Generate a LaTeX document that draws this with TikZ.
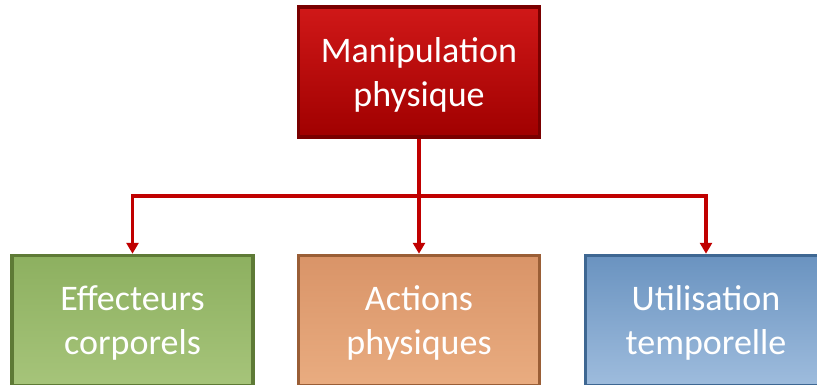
\documentclass[tikz,border=0pt]{standalone}
\usepackage{fontspec}
\setmainfont{Carlito}
\usetikzlibrary{arrows.meta}
\definecolor{redA}{HTML}{D01818}
\definecolor{redB}{HTML}{A00000}
\definecolor{redE}{HTML}{7A0000}
\definecolor{grnA}{HTML}{8DB060}
\definecolor{grnB}{HTML}{A6C47A}
\definecolor{grnE}{HTML}{5E7A36}
\definecolor{orA}{HTML}{D99468}
\definecolor{orB}{HTML}{E9AC80}
\definecolor{orE}{HTML}{9A5E36}
\definecolor{blA}{HTML}{6A93C0}
\definecolor{blB}{HTML}{9EBCDD}
\definecolor{blE}{HTML}{3E6792}
\definecolor{lineRed}{HTML}{C00000}
\tikzset{
  box/.style={minimum width=241pt, minimum height=130pt, inner sep=0pt,
    align=center, text=white, font=\fontsize{36}{44}\selectfont, line width=3.5pt,
    text depth=0pt},
  redbox/.style={box, top color=redA, bottom color=redB, draw=redE},
  grnbox/.style={box, top color=grnA, bottom color=grnB, draw=grnE},
  orbox/.style={box, top color=orA, bottom color=orB, draw=orE},
  blbox/.style={box, top color=blA, bottom color=blB, draw=blE},
  conn/.style={draw=lineRed, line width=3.2pt, -{Triangle[length=11pt,width=12pt]}},
}
\begin{document}
\begin{tikzpicture}[x=1pt,y=-1pt]
\useasboundingbox (0,0) rectangle (817,385);
\clip (0,0) rectangle (817,385);
\fill[white] (0,0) rectangle (817,385);
\node[redbox] (top) at (419,72) {Manipulation\\physique};
\node[grnbox] (g) at (132.5,320.5) {Effecteurs\\corporels};
\node[orbox] (o) at (419,320.5) {Actions\\physiques};
\node[blbox] (b) at (706,320.5) {Utilisation\\temporelle};
\coordinate (j) at (419,196);
\draw[draw=lineRed, line width=3.2pt] (top.south) -- (j);
\draw[conn] (j) -| (g.north);
\draw[conn] (top.south) -- (o.north);
\draw[conn] (j) -| (b.north);
\end{tikzpicture}
\end{document}
